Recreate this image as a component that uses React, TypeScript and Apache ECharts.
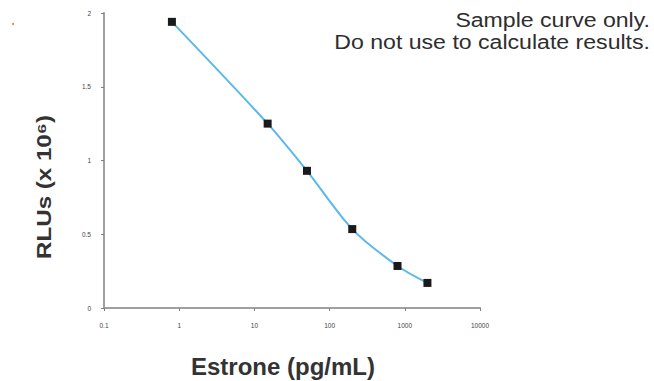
import React, { useEffect, useRef } from "react";
import * as echarts from "echarts";

const concentrations = [0.8, 15, 50, 200, 800, 2000];
const rlus = [1.94, 1.25, 0.93, 0.535, 0.285, 0.17];
const yTicks = ["0", "0.5", "1", "1.5", "2"];
const xTickLabels = ["0.1", "1", "10", "100", "1000", "10000"];
const noteLines = ["Sample curve only.", "Do not use to calculate results."];
const xTitle = "Estrone (pg/mL)";
const yTitle = "RLUs (x 10\u2076)";

export default function App() {
  const ref = useRef<HTMLDivElement>(null);
  useEffect(() => {
    if (!ref.current) return;
    const chart = echarts.init(ref.current, undefined, { renderer: "svg" });
    const axisColor = "#a0a0a0";
    chart.setOption({
      animation: false,
      backgroundColor: "#ffffff",
      grid: { left: 104, right: 174, top: 13, bottom: 73, containLabel: false },
      xAxis: {
        type: "log",
        logBase: 10,
        min: 0.1,
        max: 10000,
        axisLine: { show: true, onZero: false, lineStyle: { color: axisColor, width: 2 } },
        axisTick: { show: true, length: 3, inside: false, lineStyle: { color: "#808080" } },
        minorTick: { show: false },
        splitLine: { show: false },
        axisLabel: {
          fontSize: 6.5,
          color: "#444444",
          margin: 14,
          fontFamily: "Liberation Sans",
          formatter: (v: number) => {
            const idx = Math.round(Math.log10(v)) + 1;
            return xTickLabels[idx] ?? String(v);
          },
        },
      },
      yAxis: {
        type: "value",
        min: 0,
        max: 2,
        interval: 0.5,
        axisLine: { show: true, lineStyle: { color: axisColor, width: 2 } },
        axisTick: { show: true, length: 3, lineStyle: { color: "#808080" } },
        splitLine: { show: false },
        axisLabel: {
          fontSize: 6.5,
          color: "#444444",
          margin: 13,
          fontFamily: "Liberation Sans",
          formatter: (v: number) => {
            const idx = Math.round(v / 0.5);
            return yTicks[idx] ?? String(v);
          },
        },
      },
      series: [
        {
          type: "line",
          data: concentrations.map((c, i) => [c, rlus[i]]),
          smooth: 0.3,
          symbol: "rect",
          symbolSize: 8,
          itemStyle: { color: "#1a1a1a" },
          lineStyle: { color: "#5bb8ea", width: 2 },
          z: 3,
        },
      ],
      graphic: [
        {
          type: "text",
          x: 650,
          y: 20,
          scaleX: 1.1,
          style: {
            text: noteLines[0],
            align: "right",
            verticalAlign: "middle",
            fontFamily: "Liberation Sans",
            fontSize: 21,
            fill: "#2e2e2e",
          },
        },
        {
          type: "text",
          x: 650,
          y: 42,
          scaleX: 1.1,
          style: {
            text: noteLines[1],
            align: "right",
            verticalAlign: "middle",
            fontFamily: "Liberation Sans",
            fontSize: 21,
            fill: "#2e2e2e",
          },
        },
        {
          type: "text",
          x: 283,
          y: 366,
          style: {
            text: xTitle,
            align: "center",
            verticalAlign: "middle",
            fontFamily: "Liberation Sans",
            fontWeight: "bold",
            fontSize: 24,
            fill: "#333333",
          },
        },
        {
          type: "text",
          x: 44,
          y: 187,
          rotation: Math.PI / 2,
          scaleX: 1.15,
          style: {
            text: yTitle,
            align: "center",
            verticalAlign: "middle",
            fontFamily: "Liberation Sans",
            fontWeight: "bold",
            fontSize: 21,
            fill: "#333333",
          },
        },
        {
          type: "circle",
          shape: { cx: 13, cy: 24, r: 1 },
          style: { fill: "#c08040" },
        },
      ],
    });
    return () => chart.dispose();
  }, []);
  return <div ref={ref} style={{ width: 654, height: 381, position: "absolute", left: 0, top: 0 }} />;
}
